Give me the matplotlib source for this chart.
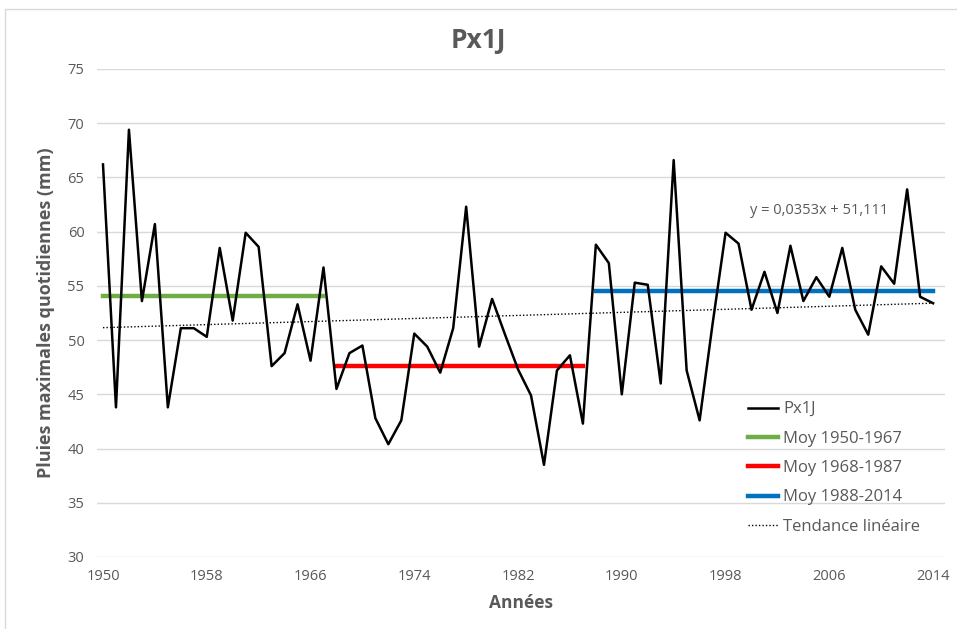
import numpy as np
import matplotlib
matplotlib.use("Agg")
from matplotlib import pyplot as plt
from matplotlib.patches import Rectangle

plt.rcParams['font.family'] = ['Open Sans', 'DejaVu Sans']

# Annual maximum daily rainfall (mm)
years = list(range(1950, 2015))
px1j = [66.2, 43.8, 69.4, 53.6, 60.7, 43.8, 51.1, 51.1, 50.3, 58.5,
        51.8, 59.9, 58.6, 47.6, 48.8, 53.3, 48.1, 56.7, 45.5, 48.8,
        49.5, 42.8, 40.4, 42.6, 50.6, 49.4, 47.0, 51.1, 62.3, 49.4,
        53.8, 50.5, 47.3, 44.9, 38.5, 47.2, 48.6, 42.3, 58.8, 57.1,
        45.0, 55.3, 55.1, 46.0, 66.6, 47.2, 42.6, 51.5, 59.9, 58.9,
        52.8, 56.3, 52.5, 58.7, 53.6, 55.8, 54.0, 58.5, 52.8, 50.5,
        56.8, 55.2, 63.9, 54.0, 53.4]

periods = [(1950, 1967), (1968, 1987), (1988, 2014)]
period_colors = ["#70AD47", "#FF0000", "#0070C0"]

# trend line as given on the chart (x = 1, 2, ... per year)
slope = 0.0353
intercept = 51.111
trend_label = "y = 0,0353x + 51,111"

xticks = list(range(1950, 2015, 8))
yticks = list(range(30, 80, 5))

grey = "#595959"
W, H = 957, 629

yrs = np.array(years)
vals = np.array(px1j)

fig = plt.figure(figsize=(W/100, H/100), dpi=100)
ax = fig.add_axes([97/W, 1 - 557/H, (945-97)/W, 488/H])

# light frame round the chart area
fig.patches.append(Rectangle((5/W, -0.1), 1.2, 1 - 9/H + 0.1,
                             transform=fig.transFigure, fill=False,
                             edgecolor="#d9d9d9", linewidth=1))

ax.plot(yrs, vals, color="black", lw=1.8, label="Px1J", zorder=4)

for (a, b), col in zip(periods, period_colors):
    m = (yrs >= a) & (yrs <= b)
    mean = vals[m].mean()
    ax.plot([a, b], [mean, mean], color=col, lw=3.2,
            label="Moy {}-{}".format(a, b), zorder=3)

idx = np.arange(1, len(yrs) + 1)
ax.plot(yrs, slope*idx + intercept, color="black", lw=1.0,
        linestyle=(0, (1, 1.5)), label="Tendance linéaire", zorder=2)

fig.text(819/W, 1 - 210/H, trend_label, color=grey, fontsize=10.5,
         ha="center", va="center")

ax.set_xlim(1950 - 6/12.97, 1950 + (945-103)/12.97)
ax.set_ylim(30, 75)
ax.set_xticks(xticks)
ax.set_yticks(yticks)
ax.tick_params(length=0, labelsize=10.5, labelcolor=grey, pad=9)
ax.grid(True, axis="y", color="#d9d9d9", lw=1)
ax.set_axisbelow(True)
for s in ax.spines.values():
    s.set_visible(False)

ax.set_xlabel("Années", fontsize=12.5, fontweight="bold", color=grey, labelpad=7)
ax.set_ylabel("Pluies maximales quotidiennes (mm)", fontsize=13,
              fontweight="bold", color=grey, labelpad=9)
fig.text(478/W, 1 - 40/H, "Px1J", fontsize=19, fontweight="bold",
         color=grey, ha="center", va="center")

leg = ax.legend(loc="upper left", bbox_to_anchor=(740/W, 1 - 393/H),
                bbox_transform=fig.transFigure, frameon=False, fontsize=12,
                handlelength=1.8, handletextpad=0.3, labelspacing=0.8,
                borderpad=0)
for t in leg.get_texts():
    t.set_color(grey)

fig.savefig("out.png", dpi=100)
